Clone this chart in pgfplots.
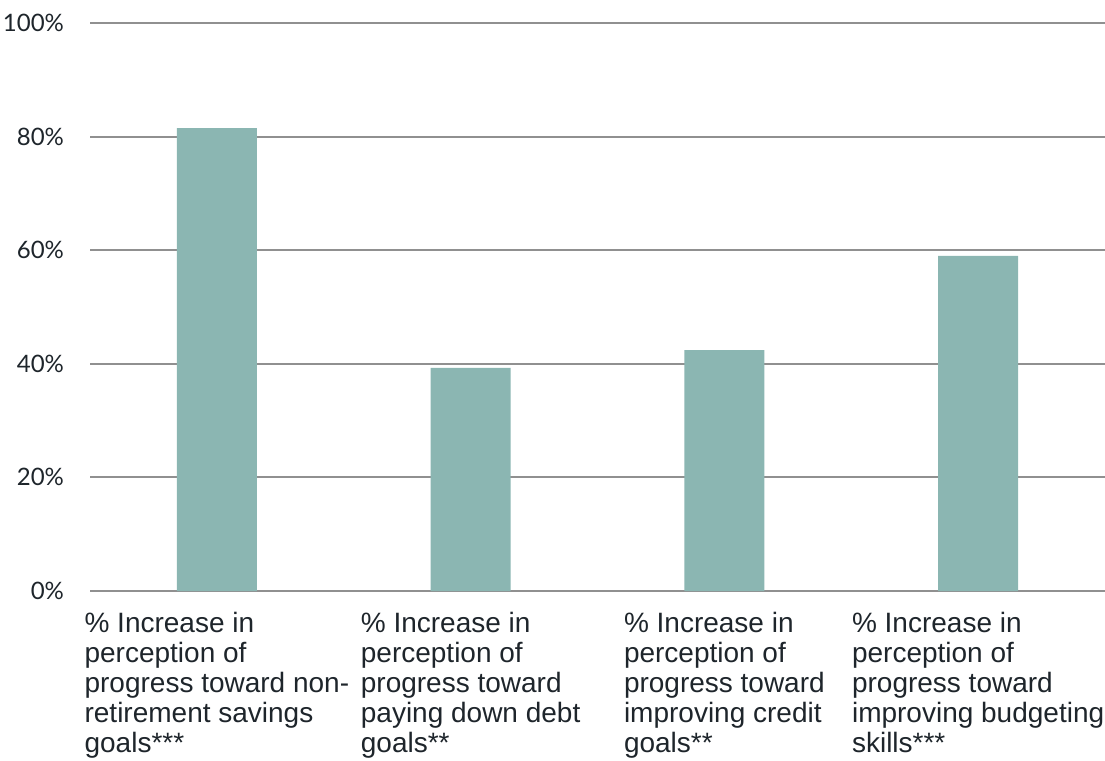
\documentclass[border=0pt]{standalone}
\usepackage{pgfplots}
\pgfplotsset{compat=1.18}
\usepackage{fontspec}
\setmainfont{Liberation Sans}
\newfontfamily\latofont{Lato}
\definecolor{barcol}{HTML}{8BB6B2}
\definecolor{gridcol}{HTML}{909090}
\definecolor{txtcol}{HTML}{1E252B}
\begin{document}
\begin{tikzpicture}
\begin{axis}[
  scale only axis,
  width=507.5pt, height=284pt,
  xmin=-0.5, xmax=3.5,
  ymin=0, ymax=100,
  axis line style={draw=none},
  ytick={0,20,40,60,80,100},
  yticklabel={\latofont\pgfmathprintnumber{\tick}\%},
  yticklabel style={font=\fontsize{12}{14}\selectfont, text=txtcol, xshift=-9.5pt},
  ymajorgrids,
  grid style={gridcol, line width=1pt},
  major tick length=0pt,
  xtick={0,1,2,3},
  xticklabels={
    {\% Increase in\\perception of\\progress toward non-\\retirement savings\\goals***},
    {\% Increase in\\perception of\\progress toward\\paying down debt\\goals**},
    {\% Increase in\\perception of\\progress toward\\improving credit\\goals**},
    {\% Increase in\\perception of\\progress toward\\improving budgeting\\skills***}},
  xticklabel style={align=left, anchor=north, text=txtcol,
    font=\fontsize{14}{15}\selectfont, yshift=-7pt},
  /pgf/number format/assume math mode=true,
]
\addplot[ybar, bar width=40pt, fill=barcol, draw=none] coordinates {
  (0,81.5) (1,39.3) (2,42.4) (3,59.0)};
\end{axis}
\pgfresetboundingbox
\path ([shift={(-45pt,-84.5pt)}]current axis.south west) rectangle ([shift={(0pt,11.5pt)}]current axis.north east);
\end{tikzpicture}
\end{document}
